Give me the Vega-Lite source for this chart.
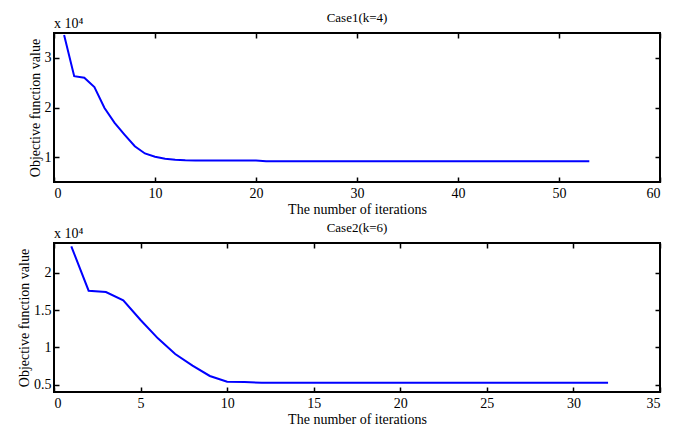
{
  "$schema": "https://vega.github.io/schema/vega-lite/v6.json",
  "background": "white",
  "padding": {"left": 16, "top": 11, "right": 5, "bottom": 0},
  "config": {
    "font": "Liberation Serif",
    "view": {"stroke": "black", "strokeWidth": 2},
    "axis": {
      "grid": false,
      "domain": false,
      "tickColor": "black",
      "tickWidth": 1.5,
      "tickSize": -5,
      "labelColor": "black",
      "labelFont": "Liberation Serif",
      "labelFontSize": 14,
      "labelPadding": 8,
      "titleColor": "black",
      "titleFont": "Liberation Serif",
      "titleFontSize": 14,
      "titleFontWeight": "normal",
      "titlePadding": 2
    },
    "axisX": {"labelPadding": 9, "titlePadding": 2},
    "title": {"font": "Liberation Serif", "fontSize": 13, "fontWeight": "normal", "color": "black", "offset": -8}
  },
  "vconcat": [
    {
      "width": 606,
      "height": 149,
      "title": "Case1(k=4)",
      "layer": [
        {
          "data": {
            "values": [
              {"iter": 1, "value": 34600}, {"iter": 2, "value": 26300}, {"iter": 3, "value": 26000},
              {"iter": 4, "value": 24100}, {"iter": 5, "value": 19900}, {"iter": 6, "value": 16900},
              {"iter": 7, "value": 14500}, {"iter": 8, "value": 12200}, {"iter": 9, "value": 10750},
              {"iter": 10, "value": 10100}, {"iter": 11, "value": 9700}, {"iter": 12, "value": 9500},
              {"iter": 13, "value": 9380}, {"iter": 14, "value": 9350}, {"iter": 15, "value": 9350},
              {"iter": 16, "value": 9350}, {"iter": 17, "value": 9350}, {"iter": 18, "value": 9350},
              {"iter": 19, "value": 9350}, {"iter": 20, "value": 9350}, {"iter": 21, "value": 9200},
              {"iter": 22, "value": 9200}, {"iter": 23, "value": 9200}, {"iter": 24, "value": 9200},
              {"iter": 25, "value": 9200}, {"iter": 26, "value": 9200}, {"iter": 27, "value": 9200},
              {"iter": 28, "value": 9200}, {"iter": 29, "value": 9200}, {"iter": 30, "value": 9200},
              {"iter": 31, "value": 9200}, {"iter": 32, "value": 9200}, {"iter": 33, "value": 9200},
              {"iter": 34, "value": 9200}, {"iter": 35, "value": 9200}, {"iter": 36, "value": 9200},
              {"iter": 37, "value": 9200}, {"iter": 38, "value": 9200}, {"iter": 39, "value": 9200},
              {"iter": 40, "value": 9200}, {"iter": 41, "value": 9200}, {"iter": 42, "value": 9200},
              {"iter": 43, "value": 9200}, {"iter": 44, "value": 9200}, {"iter": 45, "value": 9200},
              {"iter": 46, "value": 9200}, {"iter": 47, "value": 9200}, {"iter": 48, "value": 9200},
              {"iter": 49, "value": 9200}, {"iter": 50, "value": 9200}, {"iter": 51, "value": 9200},
              {"iter": 52, "value": 9200}, {"iter": 53, "value": 9200}
            ]
          },
          "layer": [
            {
              "mark": {"type": "line", "color": "#0000ff", "strokeWidth": 2, "clip": true},
              "encoding": {
                "x": {"field": "iter", "type": "quantitative", "scale": {"domain": [0, 60], "nice": false},
                      "axis": {"title": "The number of iterations", "values": [0, 10, 20, 30, 40, 50, 60]}},
                "y": {"field": "value", "type": "quantitative", "scale": {"domain": [5000, 35000], "nice": false, "zero": false},
                      "axis": {"title": "Objective function value", "values": [10000, 20000, 30000], "labelExpr": "datum.value / 10000"}}
              }
            },
            {
              "mark": {"type": "line", "opacity": 0},
              "encoding": {
                "x": {"field": "iter", "type": "quantitative", "axis": {"orient": "top", "labels": false, "title": null, "values": [0, 10, 20, 30, 40, 50, 60]}},
                "y": {"field": "value", "type": "quantitative", "axis": {"orient": "right", "labels": false, "title": null, "values": [10000, 20000, 30000]}}
              }
            }
          ],
          "resolve": {"axis": {"x": "independent", "y": "independent"}}
        },
        {
          "data": {"values": [{"iter": 0, "value": 35000, "note": "x 10⁴"}]},
          "mark": {"type": "text", "align": "left", "baseline": "bottom", "dy": -2, "fontSize": 14, "fontWeight": "normal", "font": "Liberation Serif", "color": "black"},
          "encoding": {
            "x": {"field": "iter", "type": "quantitative", "axis": null},
            "y": {"field": "value", "type": "quantitative", "axis": null},
            "text": {"field": "note"}
          }
        }
      ],
      "resolve": {"axis": {"x": "independent", "y": "independent"}}
    },
    {
      "width": 606,
      "height": 149,
      "title": "Case2(k=6)",
      "layer": [
        {
          "data": {
            "values": [
              {"iter": 1, "value": 23550}, {"iter": 2, "value": 17600}, {"iter": 3, "value": 17420},
              {"iter": 4, "value": 16300}, {"iter": 5, "value": 13660}, {"iter": 6, "value": 11200},
              {"iter": 7, "value": 9100}, {"iter": 8, "value": 7530}, {"iter": 9, "value": 6150},
              {"iter": 10, "value": 5380}, {"iter": 11, "value": 5330}, {"iter": 12, "value": 5230},
              {"iter": 13, "value": 5230}, {"iter": 14, "value": 5230}, {"iter": 15, "value": 5230},
              {"iter": 16, "value": 5230}, {"iter": 17, "value": 5230}, {"iter": 18, "value": 5230},
              {"iter": 19, "value": 5230}, {"iter": 20, "value": 5230}, {"iter": 21, "value": 5230},
              {"iter": 22, "value": 5230}, {"iter": 23, "value": 5230}, {"iter": 24, "value": 5230},
              {"iter": 25, "value": 5230}, {"iter": 26, "value": 5230}, {"iter": 27, "value": 5230},
              {"iter": 28, "value": 5230}, {"iter": 29, "value": 5230}, {"iter": 30, "value": 5230},
              {"iter": 31, "value": 5230}, {"iter": 32, "value": 5230}
            ]
          },
          "layer": [
            {
              "mark": {"type": "line", "color": "#0000ff", "strokeWidth": 2, "clip": true},
              "encoding": {
                "x": {"field": "iter", "type": "quantitative", "scale": {"domain": [0, 35], "nice": false},
                      "axis": {"title": "The number of iterations", "values": [0, 5, 10, 15, 20, 25, 30, 35]}},
                "y": {"field": "value", "type": "quantitative", "scale": {"domain": [4000, 24000], "nice": false, "zero": false},
                      "axis": {"title": "Objective function value", "values": [5000, 10000, 15000, 20000], "labelExpr": "datum.value / 10000"}}
              }
            },
            {
              "mark": {"type": "line", "opacity": 0},
              "encoding": {
                "x": {"field": "iter", "type": "quantitative", "axis": {"orient": "top", "labels": false, "title": null, "values": [0, 5, 10, 15, 20, 25, 30, 35]}},
                "y": {"field": "value", "type": "quantitative", "axis": {"orient": "right", "labels": false, "title": null, "values": [5000, 10000, 15000, 20000]}}
              }
            }
          ],
          "resolve": {"axis": {"x": "independent", "y": "independent"}}
        },
        {
          "data": {"values": [{"iter": 0, "value": 24000, "note": "x 10⁴"}]},
          "mark": {"type": "text", "align": "left", "baseline": "bottom", "dy": -2, "fontSize": 14, "fontWeight": "normal", "font": "Liberation Serif", "color": "black"},
          "encoding": {
            "x": {"field": "iter", "type": "quantitative", "axis": null},
            "y": {"field": "value", "type": "quantitative", "axis": null},
            "text": {"field": "note"}
          }
        }
      ],
      "resolve": {"axis": {"x": "independent", "y": "independent"}}
    }
  ],
  "spacing": 61,
  "bounds": "flush"
}
